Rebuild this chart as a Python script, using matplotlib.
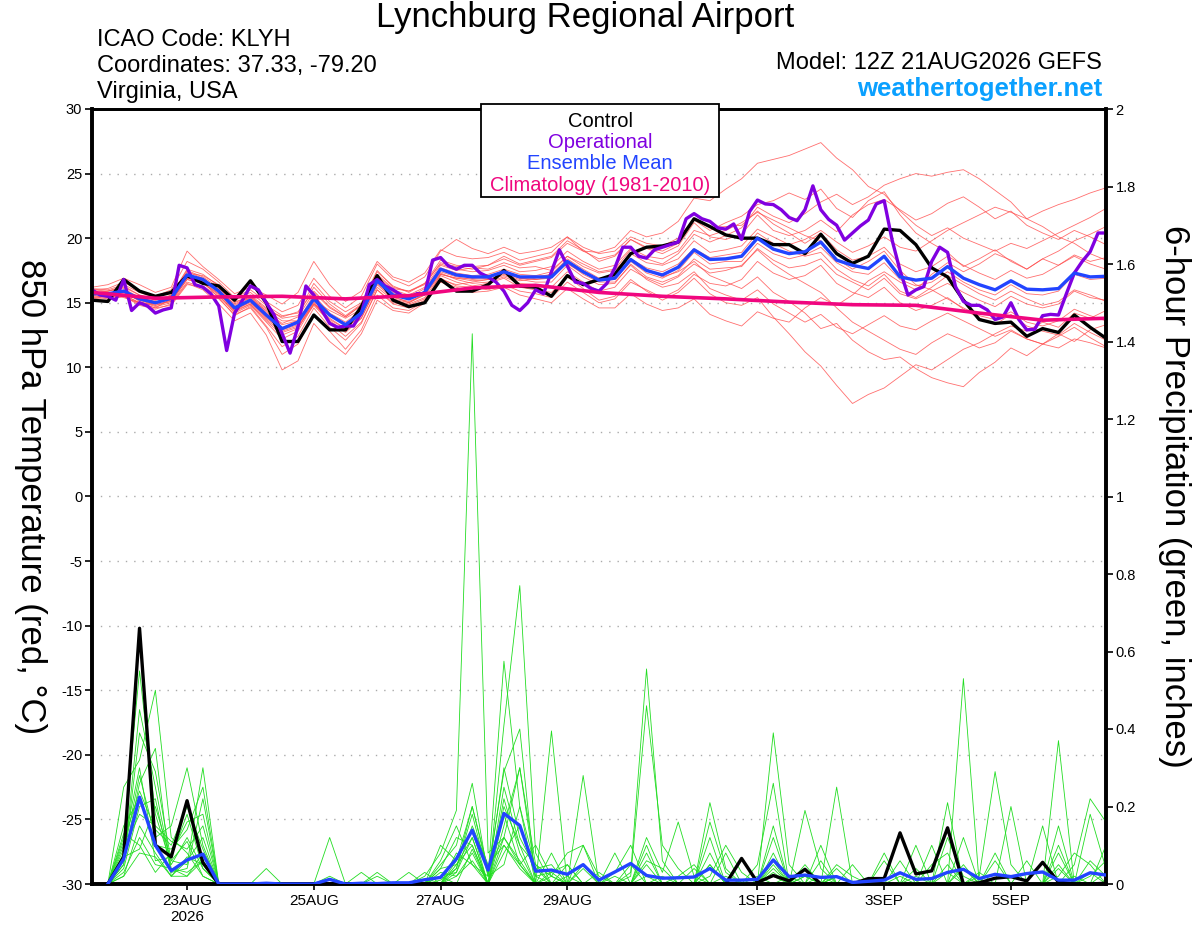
import matplotlib
matplotlib.use("Agg")
import matplotlib.pyplot as plt
from matplotlib.patches import Rectangle
import numpy as np

plt.rcParams['font.family'] = ['Liberation Sans', 'DejaVu Sans']

# ── data ────────────────────────────────────────────────
# 6-hourly steps from 12Z 21AUG2026 (hours since init)
hours6 = np.arange(0, 385, 6)
hours3 = np.arange(0, 385, 3)
hours_daily = np.arange(0, 385, 24)
hours_precip = hours6[1:]

control_t = [15.2, 15.1, 16.8, 15.9, 15.5, 15.8, 17.1, 16.5, 16.3, 15.2, 16.7,
             15.0, 12.0, 12.0, 14.05, 12.9, 12.9, 14.7, 17.1, 15.2, 14.7, 15.0,
             16.8, 15.9, 15.9, 16.4, 17.5, 16.3, 16.2, 15.5, 17.1, 16.4, 16.8,
             17.2, 18.8, 19.3, 19.4, 19.7, 21.5, 20.9, 20.25, 20.0, 20.0, 19.5,
             19.5, 18.8, 20.3, 18.8, 18.05, 18.6, 20.7, 20.6, 19.5, 17.7, 17.0,
             15.2, 13.7, 13.4, 13.5, 12.4, 13.0, 12.7, 14.05, 13.1, 12.25]

mean_t = [15.7, 15.7, 15.9, 15.3, 15.0, 15.35, 17.15, 16.8, 15.9, 14.6, 15.2,
          14.05, 13.0, 13.5, 15.3, 14.05, 13.3, 14.2, 16.7, 15.6, 15.3, 15.8,
          17.6, 17.15, 17.0, 17.0, 17.4, 17.0, 17.0, 17.0, 18.2, 17.4, 16.75,
          16.9, 18.35, 17.5, 17.15, 17.75, 19.1, 18.35, 18.4, 18.6, 20.0, 19.15,
          18.8, 18.95, 19.7, 18.3, 17.9, 17.65, 18.6, 17.0, 16.75, 16.9, 17.8,
          16.9, 16.4, 16.0, 16.7, 16.05, 16.0, 16.1, 17.3, 17.0, 17.05]

# operational run is 3-hourly
oper_t = [16.0, 15.6, 15.5, 15.2, 16.8, 14.4, 15.0, 14.75, 14.2, 14.45, 14.6,
          17.9, 17.7, 16.4, 16.2, 15.7, 14.75, 11.3, 14.2, 15.2, 16.3, 16.0,
          15.0, 14.05, 12.6, 11.1, 13.15, 16.3, 15.6, 14.45, 13.4, 13.1, 13.2,
          13.2, 14.2, 16.4, 16.8, 16.3, 16.0, 15.6, 15.35, 15.7, 15.7, 18.3,
          18.5, 17.85, 17.6, 17.9, 17.9, 17.3, 17.0, 16.6, 15.9, 14.8, 14.4,
          15.0, 16.0, 15.7, 17.4, 19.1, 17.85, 16.6, 16.5, 16.1, 15.9, 16.5,
          17.7, 19.3, 19.3, 18.6, 18.45, 19.1, 19.3, 19.5, 19.7, 21.5, 21.9,
          21.5, 21.3, 20.8, 20.7, 21.1, 19.9, 22.05, 22.95, 22.65, 22.6, 22.2,
          21.6, 21.35, 22.2, 24.05, 22.2, 21.45, 21.0, 19.85, 20.4, 20.95, 21.4,
          22.65, 22.9, 19.85, 17.5, 15.6, 16.0, 16.25, 18.2, 19.3, 18.9, 16.25,
          15.1, 14.8, 14.8, 14.45, 13.7, 13.9, 15.0, 13.7, 12.9, 12.95, 14.0,
          14.1, 14.05, 15.7, 17.3, 18.2, 18.95, 20.4, 20.4]

climo_t = [15.8, 15.35, 15.45, 15.5, 15.3, 15.55, 16.15, 16.35, 15.8, 15.5,
           15.3, 15.05, 14.85, 14.8, 14.2, 13.65, 13.8]

members_t = [
    [15.8, 15.9, 16.3, 15.6, 15.2, 15.5, 17.4, 16.9, 16.0, 14.9, 15.5,
     14.3, 13.4, 13.9, 15.8, 14.6, 13.9, 14.8, 17.2, 16.1, 15.9, 16.4,
     18.1, 17.8, 17.6, 17.9, 18.4, 17.9, 18.2, 18.5, 19.6, 19.0, 18.9,
     19.3, 20.6, 20.1, 20.4, 21.3, 23.1, 22.9, 23.8, 24.6, 25.8, 26.1,
     26.4, 26.9, 27.4, 26.2, 25.3, 24.0, 23.4, 22.1, 21.0, 20.2, 20.8,
     20.0, 19.5, 19.0, 19.6, 19.2, 19.8, 20.4, 21.0, 21.6, 22.3],
    [15.4, 15.5, 15.6, 15.0, 14.8, 15.1, 16.8, 16.5, 15.6, 14.2, 14.8,
     13.5, 12.2, 12.8, 14.9, 13.6, 12.8, 13.8, 16.2, 15.2, 14.9, 15.4,
     17.1, 16.6, 16.3, 16.5, 16.9, 16.2, 16.0, 15.8, 17.0, 16.1, 15.2,
     15.5, 16.8, 15.9, 15.2, 15.8, 16.9, 15.7, 15.0, 14.8, 15.4, 13.9,
     12.6, 11.2, 10.1, 8.6, 7.2, 7.9, 8.4, 9.3, 10.2, 9.8, 10.6,
     11.4, 11.9, 12.6, 13.2, 12.8, 13.5, 13.1, 14.2, 13.8, 14.4],
    [16.0, 15.9, 16.1, 15.4, 15.1, 15.2, 17.0, 16.6, 15.4, 14.0, 14.7,
     13.2, 11.6, 12.4, 14.6, 13.1, 12.1, 13.4, 16.0, 14.9, 14.6, 15.2,
     16.8, 16.4, 16.6, 16.8, 17.1, 16.7, 16.9, 17.2, 18.0, 17.3, 16.8,
     17.1, 18.3, 17.6, 17.0, 17.4, 18.2, 17.1, 16.6, 16.1, 17.0, 15.8,
     15.1, 14.2, 13.0, 13.4, 12.1, 11.2, 10.6, 10.8, 9.9, 9.2, 8.8,
     8.5, 9.6, 10.4, 11.5, 10.9, 11.8, 12.6, 12.0, 12.9, 13.3],
    [15.6, 15.8, 15.7, 15.2, 14.9, 15.6, 17.6, 17.2, 16.3, 15.0, 15.6,
     14.6, 13.8, 14.0, 16.2, 14.9, 14.0, 14.9, 17.1, 16.0, 15.6, 16.2,
     17.9, 17.5, 17.7, 17.6, 18.1, 17.7, 17.8, 17.5, 18.6, 18.0, 17.4,
     17.6, 19.1, 18.4, 18.0, 18.8, 20.3, 19.7, 20.2, 20.8, 22.4, 21.7,
     21.2, 21.9, 22.8, 23.4, 22.6, 23.2, 24.1, 24.6, 25.0, 24.8, 25.1,
     25.3, 24.6, 23.7, 22.8, 21.5, 20.9, 20.1, 19.6, 18.8, 18.3],
    [15.9, 15.6, 15.8, 15.5, 15.3, 15.4, 16.9, 16.7, 16.1, 15.1, 15.3,
     14.4, 13.6, 13.6, 15.2, 14.4, 13.8, 14.5, 16.8, 15.9, 15.4, 16.1,
     17.7, 17.3, 17.1, 17.2, 17.6, 17.2, 17.1, 17.4, 18.6, 17.8, 17.3,
     17.5, 18.8, 18.1, 17.9, 18.4, 19.8, 18.9, 19.1, 19.4, 20.7, 20.1,
     19.5, 19.9, 20.6, 19.7, 18.9, 19.4, 20.1, 19.3, 19.0, 19.8, 20.6,
     21.2, 21.8, 22.4, 22.0, 21.5, 22.1, 22.6, 23.0, 23.5, 23.9],
    [15.3, 15.4, 15.9, 15.1, 14.7, 15.0, 16.6, 16.2, 15.3, 14.1, 14.6,
     13.1, 11.0, 11.8, 14.1, 12.8, 11.4, 12.9, 15.6, 14.6, 14.4, 15.1,
     16.9, 16.3, 16.2, 16.0, 16.4, 15.9, 15.7, 15.4, 16.6, 15.8, 15.0,
     15.3, 16.6, 16.0, 15.4, 16.0, 17.2, 16.5, 16.3, 16.8, 18.2, 17.3,
     16.8, 17.1, 17.9, 16.5, 15.8, 15.4, 16.2, 15.0, 14.4, 14.8, 15.4,
     14.5, 13.8, 13.3, 14.1, 13.2, 12.8, 12.5, 13.4, 12.7, 12.1],
    [15.5, 15.3, 15.5, 14.8, 14.5, 14.9, 16.5, 16.0, 14.9, 13.6, 14.2,
     12.5, 9.8, 10.5, 13.4, 12.0, 11.0, 12.6, 15.2, 14.4, 14.2, 15.0,
     17.2, 16.9, 16.9, 17.0, 17.5, 17.0, 17.0, 17.2, 18.4, 17.6, 16.9,
     17.0, 18.4, 17.7, 17.4, 18.0, 19.2, 18.5, 18.7, 18.9, 20.4, 19.6,
     19.0, 18.6, 18.9, 17.6, 16.8, 16.3, 17.2, 15.9, 15.4, 16.2, 17.1,
     16.4, 15.7, 15.2, 15.9, 15.3, 14.8, 15.1, 16.0, 15.6, 15.1],
    [16.2, 16.4, 16.9, 16.4, 15.8, 16.2, 19.0, 17.8, 16.8, 15.7, 16.2,
     15.6, 14.9, 15.8, 18.2, 16.4, 15.1, 15.9, 18.2, 17.0, 16.6, 17.3,
     19.1, 18.6, 18.4, 18.5, 18.9, 18.3, 18.6, 18.9, 20.1, 19.0, 18.4,
     18.7, 19.9, 19.2, 18.8, 19.4, 21.2, 20.1, 19.9, 20.3, 21.8, 20.6,
     20.2, 20.6, 21.4, 20.5, 21.8, 22.6, 23.0, 22.2, 21.4, 21.9, 22.7,
     23.2, 22.4, 21.5, 22.1, 21.0, 20.4, 19.9, 20.6, 20.1, 19.5],
    [15.6, 15.7, 15.4, 15.0, 14.6, 15.3, 17.2, 16.8, 15.8, 14.5, 15.0,
     13.9, 12.8, 13.2, 14.9, 13.8, 13.0, 14.1, 16.5, 15.4, 15.1, 15.6,
     17.3, 16.8, 16.5, 16.6, 17.0, 16.5, 16.4, 16.2, 17.4, 16.6, 15.9,
     16.2, 17.6, 16.9, 16.4, 17.0, 18.0, 17.3, 17.5, 17.9, 19.1, 18.0,
     17.2, 16.5, 15.8, 14.6, 13.5, 12.8, 12.1, 11.4, 11.0, 11.9, 12.6,
     12.1, 11.5, 11.9, 12.8, 12.2, 11.8, 12.4, 13.1, 12.3, 11.6],
    [15.8, 15.6, 16.0, 15.3, 15.0, 15.3, 17.1, 16.9, 16.0, 14.7, 15.4,
     14.2, 13.3, 13.6, 15.6, 14.2, 13.5, 14.4, 17.0, 15.8, 15.3, 15.9,
     17.6, 17.2, 16.9, 17.0, 17.3, 16.9, 16.8, 16.9, 18.2, 17.4, 16.7,
     16.8, 18.2, 17.3, 16.9, 17.5, 18.9, 18.0, 18.2, 18.2, 19.6, 18.8,
     18.4, 18.7, 19.3, 18.1, 17.4, 17.2, 18.1, 16.8, 16.3, 16.6, 17.4,
     16.6, 16.0, 15.6, 16.4, 15.7, 15.6, 15.9, 17.2, 16.8, 16.9],
    [15.7, 15.9, 16.2, 15.6, 15.2, 15.6, 17.5, 17.0, 16.2, 14.8, 15.5,
     14.5, 13.9, 14.3, 15.9, 14.7, 13.9, 14.8, 17.4, 16.3, 15.8, 16.5,
     18.3, 17.9, 17.8, 17.9, 18.6, 18.0, 18.3, 18.6, 19.8, 19.1, 18.2,
     18.6, 19.9, 19.3, 19.0, 19.6, 21.4, 20.6, 21.2, 21.7, 22.6, 22.9,
     23.5, 23.0, 23.8, 22.3, 21.6, 22.9, 23.6, 21.8, 20.4, 19.6, 18.9,
     17.8, 18.4, 19.1, 18.2, 17.6, 18.4, 19.0, 19.8, 20.3, 20.9],
    [15.2, 15.2, 15.5, 14.9, 14.6, 14.8, 16.4, 16.3, 15.5, 14.3, 14.9,
     13.6, 12.5, 13.0, 15.1, 13.4, 12.4, 13.5, 16.0, 15.0, 14.8, 15.3,
     16.6, 16.2, 15.8, 15.9, 16.2, 15.6, 15.3, 15.0, 16.1, 15.3, 14.6,
     14.6, 15.7, 14.9, 14.4, 14.6, 15.3, 14.1, 13.6, 13.2, 14.3, 13.8,
     13.5, 14.6, 15.4, 14.8, 15.6, 16.7, 17.4, 16.6, 16.0, 17.2, 18.1,
     17.4, 18.0, 18.8, 18.3, 17.6, 18.4, 17.9, 18.6, 18.0, 17.6],
    [16.1, 16.0, 16.4, 15.8, 15.4, 15.8, 17.3, 17.1, 16.4, 15.2, 15.8,
     14.8, 14.0, 14.2, 16.5, 15.1, 14.3, 15.0, 17.5, 16.2, 15.9, 16.5,
     18.0, 17.6, 17.4, 17.5, 17.9, 17.4, 17.5, 17.8, 19.0, 18.2, 17.6,
     17.9, 19.2, 18.6, 18.4, 19.0, 20.6, 20.2, 20.6, 21.2, 22.0, 21.4,
     20.8, 20.2, 19.8, 18.4, 17.6, 18.2, 19.0, 17.5, 16.4, 16.0, 15.3,
     14.6, 14.0, 13.7, 14.3, 13.5, 13.2, 13.6, 14.5, 14.0, 13.6],
    [15.6, 15.4, 15.6, 15.0, 14.9, 15.1, 16.8, 16.5, 15.7, 14.4, 14.9,
     13.7, 12.7, 13.1, 14.8, 13.5, 12.7, 13.8, 16.4, 15.3, 15.0, 15.6,
     17.2, 16.9, 16.7, 16.8, 17.2, 16.8, 16.6, 16.6, 17.9, 17.0, 16.4,
     16.5, 18.0, 17.0, 16.6, 17.1, 18.4, 17.6, 17.7, 17.8, 19.2, 18.3,
     17.7, 17.9, 18.4, 17.2, 16.6, 16.0, 16.9, 15.7, 15.3, 15.9, 16.5,
     15.8, 15.2, 14.7, 15.5, 14.9, 14.6, 14.9, 15.9, 15.4, 15.2],
    [16.0, 16.1, 16.6, 15.9, 15.5, 16.0, 18.2, 17.6, 16.6, 15.4, 16.0,
     15.1, 14.3, 14.8, 16.9, 15.5, 14.6, 15.5, 18.0, 16.8, 16.3, 17.0,
     19.0, 19.9, 19.2, 18.8, 19.3, 18.8, 19.0, 19.3, 20.1, 19.3, 18.8,
     19.0, 20.1, 19.6, 19.4, 20.0, 21.5, 20.8, 20.9, 21.0, 22.1, 21.1,
     20.4, 19.6, 20.4, 19.1, 18.3, 18.6, 19.3, 18.0, 17.4, 17.8, 18.6,
     17.9, 17.3, 16.8, 17.5, 16.9, 17.2, 17.9, 18.7, 18.2, 18.5],
    [15.4, 15.6, 15.8, 15.2, 14.8, 15.2, 16.9, 16.6, 15.7, 14.4, 15.1,
     13.8, 12.9, 13.3, 15.0, 13.7, 13.0, 14.0, 16.6, 15.5, 15.0, 15.7,
     17.4, 17.0, 16.8, 16.9, 17.4, 16.9, 16.8, 17.0, 18.1, 17.2, 16.6,
     16.6, 17.9, 16.8, 16.2, 16.5, 17.4, 16.1, 15.6, 15.2, 16.0, 14.9,
     14.2, 13.5, 14.1, 13.1, 12.6, 13.3, 14.0, 13.2, 12.9, 13.6, 14.2,
     13.6, 13.0, 12.4, 12.9, 12.2, 11.8, 11.5, 12.2, 11.9, 11.5],
]

# 6-hour precipitation (inches), valid from +6h onward
control_p = [0, 0.07, 0.66, 0.10, 0.07, 0.215, 0.055, 0,
             0, 0, 0, 0, 0, 0, 0, 0,
             0, 0, 0, 0, 0, 0, 0, 0,
             0, 0, 0, 0, 0, 0, 0, 0,
             0, 0, 0, 0, 0, 0, 0, 0,
             0.066, 0.004, 0.022, 0.008, 0.038, 0, 0, 0,
             0.014, 0.014, 0.132, 0.026, 0.034, 0.145, 0, 0.003,
             0.015, 0.019, 0.008, 0.056, 0.005, 0, 0, 0.002]

mean_p = [0, 0.065, 0.224, 0.10, 0.034, 0.062, 0.077, 0,
          0, 0, 0.002, 0, 0, 0, 0.012, 0,
          0.002, 0.001, 0.003, 0.003, 0.011, 0.017, 0.065, 0.139,
          0.036, 0.182, 0.151, 0.033, 0.036, 0.025, 0.05, 0.01,
          0.031, 0.053, 0.022, 0.015, 0.016, 0.018, 0.04, 0.01,
          0.01, 0.012, 0.062, 0.019, 0.023, 0.017, 0.019, 0.004,
          0.007, 0.01, 0.029, 0.012, 0.014, 0.03, 0.038, 0.014,
          0.025, 0.019, 0.027, 0.031, 0.01, 0.01, 0.029, 0.023]

members_p = [
    [0, 0.12, 0.55, 0.18, 0.05, 0.12, 0.04, 0, 0, 0, 0, 0, 0, 0, 0, 0,
     0, 0, 0, 0, 0.02, 0.08, 0.19, 1.42, 0.08, 0.12, 0.06, 0, 0.02, 0, 0, 0,
     0, 0, 0, 0.02, 0, 0, 0.05, 0, 0, 0, 0.04, 0, 0, 0, 0.02, 0,
     0, 0, 0, 0, 0, 0.03, 0, 0, 0, 0, 0, 0, 0, 0, 0.03, 0],
    [0, 0.25, 0.32, 0.50, 0.12, 0.08, 0.02, 0, 0, 0, 0.04, 0, 0, 0, 0, 0,
     0, 0, 0, 0, 0, 0.05, 0.10, 0.26, 0.02, 0.575, 0.20, 0.04, 0.05, 0, 0, 0,
     0.03, 0.10, 0, 0, 0, 0.04, 0, 0, 0, 0, 0.39, 0.05, 0, 0, 0.04, 0,
     0, 0, 0, 0, 0, 0, 0.05, 0, 0, 0, 0, 0, 0, 0, 0.02, 0.06],
    [0, 0.05, 0.39, 0.29, 0.06, 0.05, 0.30, 0, 0, 0, 0, 0, 0, 0, 0.12, 0,
     0, 0, 0, 0, 0.03, 0, 0.05, 0.12, 0, 0.41, 0.77, 0.08, 0, 0, 0.28, 0,
     0, 0.05, 0, 0, 0, 0, 0.21, 0.04, 0, 0, 0.02, 0, 0, 0, 0, 0,
     0, 0, 0, 0.04, 0, 0, 0.53, 0, 0.06, 0, 0, 0, 0, 0, 0, 0.10],
    [0, 0.08, 0.28, 0.12, 0.15, 0.30, 0.10, 0, 0, 0, 0, 0, 0, 0, 0.02, 0,
     0, 0.02, 0, 0, 0, 0.10, 0.06, 0.20, 0.03, 0.29, 0.40, 0, 0.395, 0, 0, 0.03,
     0, 0.03, 0.555, 0.06, 0, 0, 0, 0, 0, 0.05, 0.26, 0, 0, 0.02, 0, 0,
     0, 0, 0, 0, 0.10, 0, 0, 0, 0, 0, 0, 0, 0, 0.05, 0.22, 0.16],
    [0, 0.04, 0.20, 0.22, 0.03, 0.04, 0.22, 0, 0, 0, 0, 0, 0, 0, 0, 0,
     0, 0, 0, 0.03, 0, 0.04, 0.12, 0.10, 0, 0.15, 0.30, 0.05, 0.02, 0.08, 0.10, 0,
     0, 0.02, 0.46, 0.10, 0.04, 0, 0, 0.02, 0, 0, 0, 0, 0.19, 0.04, 0, 0.05,
     0, 0, 0, 0, 0, 0, 0.12, 0, 0, 0, 0, 0.15, 0, 0, 0, 0],
    [0, 0.02, 0.15, 0.08, 0.02, 0.06, 0.12, 0, 0, 0, 0, 0, 0, 0, 0, 0,
     0, 0, 0, 0, 0, 0.02, 0.03, 0.15, 0.05, 0.10, 0.05, 0, 0, 0, 0, 0,
     0.08, 0, 0, 0, 0, 0, 0.16, 0.03, 0, 0, 0.15, 0, 0, 0.10, 0, 0,
     0, 0.08, 0, 0, 0, 0.21, 0, 0.02, 0.29, 0.05, 0, 0, 0, 0, 0, 0],
    [0, 0.10, 0.30, 0.06, 0.07, 0.18, 0.04, 0, 0, 0, 0, 0, 0, 0, 0, 0,
     0, 0, 0, 0, 0, 0, 0.08, 0.05, 0, 0.20, 0.10, 0, 0.03, 0, 0, 0,
     0, 0, 0.12, 0.03, 0.16, 0.02, 0, 0, 0, 0, 0.12, 0, 0, 0, 0.25, 0,
     0, 0, 0.06, 0, 0, 0, 0, 0, 0, 0.20, 0, 0, 0.37, 0, 0, 0.03],
    [0, 0.06, 0.26, 0.35, 0.02, 0.02, 0.06, 0, 0, 0, 0, 0, 0, 0, 0, 0,
     0, 0, 0, 0, 0, 0.03, 0.02, 0.08, 0, 0.12, 0.05, 0.10, 0.02, 0, 0.05, 0,
     0, 0, 0, 0, 0, 0, 0.12, 0, 0, 0, 0.06, 0, 0.04, 0, 0, 0,
     0, 0, 0, 0.10, 0, 0, 0, 0, 0, 0, 0, 0, 0.15, 0, 0, 0],
    [0, 0.15, 0.22, 0.10, 0.09, 0.14, 0.25, 0, 0, 0, 0, 0, 0, 0, 0, 0,
     0, 0, 0, 0, 0, 0.04, 0.05, 0.10, 0, 0.22, 0.08, 0, 0, 0, 0.10, 0.02,
     0, 0, 0.05, 0, 0, 0, 0, 0, 0, 0, 0.03, 0, 0, 0.06, 0, 0,
     0, 0, 0, 0, 0, 0, 0.04, 0, 0, 0, 0, 0, 0.05, 0, 0.18, 0.04],
    [0, 0.03, 0.12, 0.05, 0.04, 0.02, 0.08, 0, 0, 0, 0, 0, 0, 0, 0, 0,
     0.03, 0, 0, 0, 0, 0, 0.02, 0.06, 0, 0.08, 0.15, 0.02, 0, 0.05, 0, 0,
     0.02, 0, 0.08, 0, 0.02, 0.05, 0, 0.08, 0, 0.02, 0, 0, 0.05, 0, 0.02, 0,
     0, 0, 0.02, 0, 0, 0.05, 0, 0, 0.08, 0, 0, 0, 0, 0.02, 0, 0],
    [0, 0.09, 0.18, 0.15, 0.11, 0.09, 0.15, 0, 0, 0, 0, 0, 0, 0, 0, 0,
     0, 0, 0, 0, 0, 0, 0.04, 0.18, 0.02, 0.05, 0.20, 0, 0, 0.02, 0, 0,
     0, 0, 0.02, 0, 0, 0, 0, 0, 0, 0, 0, 0, 0.02, 0, 0, 0,
     0, 0, 0, 0, 0, 0, 0, 0, 0, 0, 0, 0, 0.02, 0.08, 0.05, 0],
    [0, 0.07, 0.09, 0.20, 0.06, 0.11, 0.02, 0, 0, 0, 0, 0, 0, 0, 0, 0,
     0, 0, 0, 0, 0, 0.06, 0.15, 0.05, 0.02, 0.30, 0.12, 0.04, 0, 0, 0, 0,
     0, 0, 0.06, 0.04, 0, 0, 0.02, 0.10, 0.03, 0, 0.08, 0, 0.02, 0, 0, 0,
     0, 0, 0, 0, 0.05, 0.08, 0, 0, 0, 0, 0.06, 0, 0, 0, 0.06, 0.02],
    [0, 0.05, 0.45, 0.25, 0.04, 0.03, 0.06, 0, 0, 0, 0, 0, 0, 0, 0, 0,
     0, 0, 0, 0, 0, 0, 0.03, 0.12, 0, 0.18, 0.05, 0, 0, 0, 0, 0,
     0, 0, 0, 0, 0, 0, 0, 0, 0, 0, 0.05, 0, 0, 0, 0, 0,
     0, 0, 0, 0, 0, 0.12, 0.02, 0, 0, 0, 0, 0, 0.04, 0, 0, 0],
    [0, 0.13, 0.10, 0.03, 0.08, 0.16, 0.18, 0, 0, 0, 0, 0, 0, 0, 0, 0,
     0, 0, 0, 0, 0, 0.02, 0, 0.09, 0, 0.10, 0.04, 0, 0.08, 0, 0, 0,
     0, 0, 0, 0, 0, 0, 0.08, 0, 0, 0, 0, 0, 0, 0, 0.05, 0.02,
     0, 0, 0, 0.02, 0, 0, 0, 0, 0, 0, 0, 0, 0.08, 0, 0, 0],
    [0, 0.02, 0.08, 0.07, 0.02, 0.07, 0.05, 0, 0, 0, 0, 0, 0, 0, 0, 0,
     0, 0, 0, 0, 0, 0.01, 0.04, 0.20, 0.04, 0.12, 0.30, 0.02, 0.03, 0.05, 0, 0,
     0, 0, 0, 0, 0, 0, 0, 0, 0, 0, 0, 0, 0, 0, 0.02, 0,
     0, 0, 0, 0, 0, 0, 0, 0, 0, 0, 0, 0, 0, 0, 0, 0],
    [0, 0.11, 0.24, 0.14, 0.10, 0.20, 0.09, 0, 0, 0, 0, 0, 0, 0, 0, 0,
     0, 0.03, 0, 0, 0, 0, 0.06, 0.14, 0, 0.25, 0.10, 0.05, 0, 0, 0.04, 0,
     0, 0, 0.10, 0, 0, 0, 0.05, 0, 0, 0, 0, 0.02, 0, 0, 0, 0,
     0, 0.06, 0, 0, 0, 0, 0, 0.03, 0, 0, 0, 0, 0.10, 0, 0, 0],
]

tick_hours = [36, 84, 132, 180, 252, 300, 348]
tick_labels = ["23AUG\n2026", "25AUG", "27AUG", "29AUG", "1SEP", "3SEP", "5SEP"]

t_ticks = np.arange(-30, 31, 5)
p_ticks = [0, 0.2, 0.4, 0.6, 0.8, 1, 1.2, 1.4, 1.6, 1.8, 2]
p_labels = ["0", "0.2", "0.4", "0.6", "0.8", "1", "1.2", "1.4", "1.6", "1.8", "2"]

# ── figure ──────────────────────────────────────────────
W, H = 1200, 927
fig = plt.figure(figsize=(W / 100, H / 100), dpi=100)
ax = fig.add_axes([92 / W, 1 - 884 / H, (1106 - 92) / W, (884 - 109) / H])
ax2 = ax.twinx()

RED = "#ff4a4a"
GREEN = "#22dd22"
PURPLE = "#8000e0"
BLUE = "#2244ff"
PINK = "#f0067f"

# temperature
for m in members_t:
    ax.plot(hours6, m, color=RED, lw=0.6, alpha=0.8, zorder=2)
ax.plot(hours6, control_t, color="black", lw=2.4, zorder=4)
ax.plot(hours3, oper_t, color=PURPLE, lw=2.4, zorder=5)
ax.plot(hours6, mean_t, color=BLUE, lw=2.4, zorder=6)
ax.plot(hours_daily, climo_t, color=PINK, lw=2.6, zorder=7)

ax.set_xlim(0, 384)
ax.set_ylim(-30, 30)
ax.set_yticks(t_ticks)
ax.set_yticklabels([str(t) for t in t_ticks], fontsize=10.5)
for t in t_ticks[1:-1]:
    ax.axhline(t, color="#aaaaaa", lw=1, ls=(0, (1, 5)), zorder=1)
ax.set_xticks(tick_hours)
ax.set_xticklabels(tick_labels, fontsize=11)
ax.tick_params(axis="x", direction="out", length=4, width=1.2, pad=3)
ax.tick_params(axis="y", direction="out", length=5, width=1.2, pad=2)

ax.set_ylabel("850 hPa Temperature (red, °C)", fontsize=25, rotation=270,
              va="center", ha="center")
ax.yaxis.set_label_coords(-0.061, 0.5)

# precipitation
for m in members_p:
    ax2.plot(hours_precip, m, color=GREEN, lw=0.6, zorder=2)
ax2.plot(hours_precip, control_p, color="black", lw=2.4, zorder=4)
ax2.plot(hours_precip, mean_p, color=BLUE, lw=2.4, zorder=5)
ax2.set_ylim(0, 2)
ax2.set_yticks(p_ticks)
ax2.set_yticklabels(p_labels, fontsize=10.5)
ax2.tick_params(axis="y", direction="out", length=5, width=1.2, pad=2)
ax2.set_ylabel("6-hour Precipitation (green, inches)", fontsize=25,
               rotation=270, va="center", ha="center")
ax2.yaxis.set_label_coords(1.068, 0.5)

for a in (ax, ax2):
    for side in ("left", "right", "bottom"):
        a.spines[side].set_linewidth(2.6)
    a.spines["top"].set_linewidth(2.0)

# legend box
ax2.add_patch(Rectangle((0.3836, 0.8865), 0.2347, 0.12, transform=ax2.transAxes,
                        facecolor="white", edgecolor="black", lw=1.3,
                        zorder=10, clip_on=False))
leg_items = [("Control", "black"), ("Operational", PURPLE),
             ("Ensemble Mean", BLUE), ("Climatology (1981-2010)", PINK)]
leg_y = [0.9845, 0.9574, 0.9303, 0.9019]
for (txt, col), yy in zip(leg_items, leg_y):
    ax2.text(0.501, yy, txt, color=col, fontsize=14.5, ha="center",
             va="center", transform=ax2.transAxes, zorder=11)

# header text
fig.text(585 / W, 1 - 18 / H, "Lynchburg Regional Airport", fontsize=25,
         ha="center", va="center")
fig.text(97 / W, 1 - 40 / H, "ICAO Code: KLYH", fontsize=17, va="center")
fig.text(97 / W, 1 - 66 / H, "Coordinates: 37.33, -79.20", fontsize=17,
         va="center")
fig.text(97 / W, 1 - 92 / H, "Virginia, USA", fontsize=17, va="center")
fig.text(1102 / W, 1 - 63 / H, "Model: 12Z 21AUG2026 GEFS", fontsize=17,
         ha="right", va="center")
fig.text(1102 / W, 1 - 89 / H, "weathertogether.net", fontsize=18.5,
         fontweight="bold", color="#0aa0ff", ha="right", va="center")

fig.savefig("out.png", dpi=100)
